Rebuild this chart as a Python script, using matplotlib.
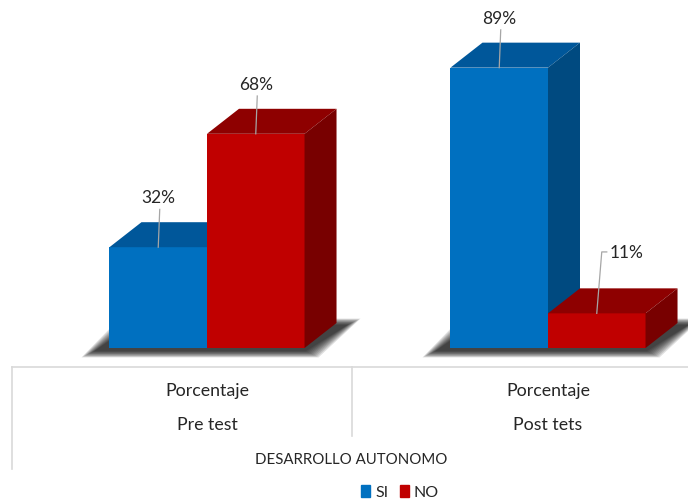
import matplotlib.pyplot as plt
from matplotlib.patches import Polygon, Patch

plt.rcParams["font.family"] = ["Lato", "DejaVu Sans"]

grupos = ["Pre test", "Post tets"]
subtitulo = "Porcentaje"
titulo_eje = "DESARROLLO AUTONOMO"
series = ["SI", "NO"]
valores_si = [32, 89]
valores_no = [68, 11]

# colores: frente, techo, lado
colores = {
    "SI": ("#0070C0", "#00579A", "#004A80"),
    "NO": ("#C00000", "#8E0000", "#780000"),
}

W_PX, H_PX = 688, 502
PX_X = 341.0      # pixeles por grupo
PX_Y = 3.15       # pixeles por punto porcentual
ANCHO = 0.286
DX = 32 / PX_X
DY = 25 / PX_Y
TXT = "#262626"

fig = plt.figure(figsize=(W_PX / 100, H_PX / 100), dpi=100)
ax = fig.add_axes([0, 0, 1, 1])
ax.set_xlim(-207 / PX_X, (W_PX - 207) / PX_X)
ax.set_ylim(-(H_PX - 349) / PX_Y, 349 / PX_Y)
ax.axis("off")


def sombra(x0, x1, z):
    # sombra difusa bajo el grupo de barras (huella desplazada a la izquierda)
    n = 10
    for i in range(n):
        e = (n - i) * 1.4 / PX_X
        ey = (n - i) * 0.22
        pts = [(x0 - 14 / PX_X - e, -0.8 - ey), (x1 + e, -0.8 - ey),
               (x1 + DX + 10 / PX_X + e, DY * 0.9 + ey),
               (x0 + DX - 8 / PX_X - e, DY * 0.9 + ey)]
        ax.add_patch(Polygon(pts, closed=True, color="black", alpha=0.12,
                             lw=0, zorder=z))


def barra_3d(x0, h, serie, z):
    frente, techo, lado = colores[serie]
    ax.bar(x0, h, width=ANCHO, align="edge", color=frente, lw=0, zorder=z)
    top = [(x0, h), (x0 + ANCHO, h), (x0 + ANCHO + DX, h + DY), (x0 + DX, h + DY)]
    side = [(x0 + ANCHO, 0), (x0 + ANCHO, h), (x0 + ANCHO + DX, h + DY),
            (x0 + ANCHO + DX, DY)]
    ax.add_patch(Polygon(top, closed=True, color=techo, lw=0, zorder=z))
    ax.add_patch(Polygon(side, closed=True, color=lado, lw=0, zorder=z))


def etiqueta(xc, h):
    txt = f"{h}%"
    if h < 20:
        # etiqueta desplazada con linea en codo
        xe, ye = xc + 5 / PX_X, h + 19.5
        ax.plot([xc, xe, xe + 5 / PX_X], [h, ye, ye], color="#A6A6A6",
                lw=0.9, zorder=20)
        ax.text(xe + 8 / PX_X, ye, txt, ha="left", va="center",
                fontsize=12.5, color=TXT, zorder=21)
    else:
        ax.plot([xc, xc + 1.5 / PX_X], [h, h + 12], color="#A6A6A6",
                lw=0.9, zorder=20)
        ax.text(xc, h + 15.8, txt, ha="center", va="center",
                fontsize=12.5, color=TXT, zorder=21)


z = 2
for i, g in enumerate(grupos):
    x_si = i - ANCHO
    x_no = i
    sombra(x_si, x_no + ANCHO, 1)
    barra_3d(x_si, valores_si[i], "SI", z)
    barra_3d(x_no, valores_no[i], "NO", z + 1)
    z += 2

for i in range(len(grupos)):
    etiqueta(i - ANCHO / 2, valores_si[i])
    etiqueta(i + ANCHO / 2, valores_no[i])

# tabla de categorias
gris = "#D9D9D9"
fy = lambda p: 1 - p / H_PX
fx = lambda p: p / W_PX
fig.add_artist(plt.Line2D([fx(12), 1], [fy(368), fy(368)], color=gris, lw=1.2))
fig.add_artist(plt.Line2D([fx(12), fx(12)], [fy(368), fy(470)], color=gris, lw=1.2))
fig.add_artist(plt.Line2D([fx(352), fx(352)], [fy(368), fy(437)], color=gris, lw=1.2))

for i, g in enumerate(grupos):
    xc = ax.transData.transform((i, 0))[0] / W_PX
    fig.text(xc, fy(391), subtitulo, ha="center", va="center", fontsize=12.8,
             color=TXT)
    fig.text(xc, fy(425), g, ha="center", va="center", fontsize=12.8,
             color=TXT)
fig.text(fx(351), fy(460), titulo_eje, ha="center", va="center", fontsize=10.8,
         color=TXT)

handles = [Patch(color=colores[s][0], label=s) for s in series]
fig.legend(handles=handles, loc="center", bbox_to_anchor=(fx(400), fy(493)),
           ncol=2, frameon=False, fontsize=11.5, handlelength=0.6,
           handleheight=0.8, handletextpad=0.3, columnspacing=0.7,
           labelcolor=TXT)

fig.savefig("out.png", dpi=100)
